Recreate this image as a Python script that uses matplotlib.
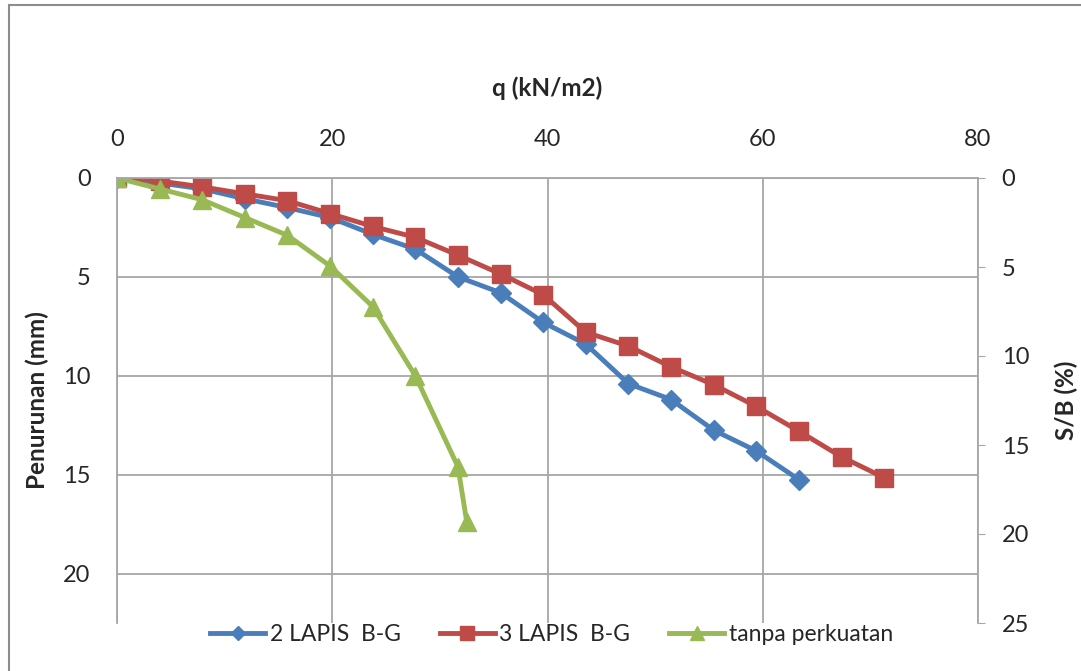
import matplotlib.pyplot as plt
from matplotlib.patches import Rectangle

plt.rcParams['font.family'] = ['Lato', 'DejaVu Sans']

# load steps (kN/m2)
q = [0, 3.96, 7.92, 11.88, 15.84, 19.8, 23.76, 27.72, 31.68, 35.64,
     39.6, 43.56, 47.52, 51.48, 55.44, 59.4, 63.36, 67.32, 71.28]

# settlement (mm)
s_2lapis = [0, 0.25, 0.55, 1.05, 1.5, 2.0, 2.85, 3.6, 5.0, 5.8,
            7.3, 8.4, 10.4, 11.2, 12.75, 13.8, 15.25]
s_3lapis = [0, 0.15, 0.45, 0.8, 1.15, 1.8, 2.45, 3.0, 3.9, 4.85,
            5.9, 7.8, 8.5, 9.55, 10.45, 11.55, 12.8, 14.1, 15.15]
q_tanpa = [0, 3.96, 7.92, 11.88, 15.84, 19.8, 23.76, 27.72, 31.68, 32.5]
s_tanpa = [0, 0.55, 1.1, 2.0, 2.9, 4.45, 6.5, 10.0, 14.6, 17.4]

labels = ['2 LAPIS  B-G', '3 LAPIS  B-G', 'tanpa perkuatan']
blue, red, green = '#4A7EBB', '#BE4B48', '#98B954'
grid = '#A6A6A6'
txt = '#262626'

fig = plt.figure(figsize=(10.81, 6.71), dpi=100)
fig.patch.set_facecolor('white')
fig.add_artist(Rectangle((9/1081, -0.01), 1.1, 1 - 5/671 + 0.01, transform=fig.transFigure,
                         facecolor='none', edgecolor='#8C8C8C', lw=1.5))

ax = fig.add_axes([117/1081, 1 - 623/671, (978 - 117)/1081, (623 - 178)/671])
ax.plot(q[:len(s_2lapis)], s_2lapis, color=blue, lw=3.5, marker='D', ms=10, label=labels[0])
ax.plot(q, s_3lapis, color=red, lw=3.5, marker='s', ms=12.5, label=labels[1])
ax.plot(q_tanpa, s_tanpa, color=green, lw=3.5, marker='^', ms=13, label=labels[2])

ax.set_xlim(0, 80)
ax.set_ylim(22.5, 0)
ax.xaxis.tick_top()
ax.xaxis.set_label_position('top')
ax.set_xticks([0, 20, 40, 60, 80])
ax.set_yticks([0, 5, 10, 15, 20])
ax.tick_params(axis='both', length=0, labelsize=17, colors=txt)
ax.tick_params(axis='x', pad=20)
ax.tick_params(axis='y', pad=19)
ax.set_xlabel('q (kN/m2)', fontsize=17.5, fontweight='bold', labelpad=24, color=txt)
ax.set_ylabel('Penurunan (mm)', fontsize=17.5, fontweight='bold', labelpad=10, color=txt)
ax.grid(True, color=grid, lw=1.3)
for side in ['bottom', 'right']:
    ax.spines[side].set_visible(False)
for side in ['left', 'top']:
    ax.spines[side].set_color(grid)
    ax.spines[side].set_linewidth(1.3)

ax2 = ax.twinx()
ax2.set_ylim(25, 0)
ax2.set_yticks([0, 5, 10, 15, 20, 25])
ax2.tick_params(axis='y', length=5, direction='out', color=grid, labelsize=17,
                labelcolor=txt, pad=12)
ax2.set_ylabel('S/B (%)', fontsize=17.5, fontweight='bold', labelpad=18, color=txt)
for side in ['left', 'top', 'bottom']:
    ax2.spines[side].set_visible(False)
ax2.spines['right'].set_color(grid)
ax2.spines['right'].set_linewidth(1.3)

leg = ax.legend(loc='center', bbox_to_anchor=(0.505, -0.026), ncol=3, frameon=False,
                fontsize=16.5, handlelength=2.4, handletextpad=0.2, columnspacing=1.7,
                markerscale=0.75)
for t in leg.get_texts():
    t.set_color(txt)

fig.savefig('out.png', dpi=100)
